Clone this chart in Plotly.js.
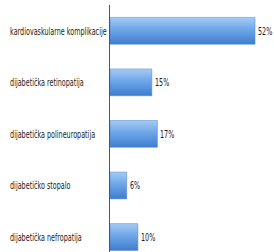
<!DOCTYPE html>
<html><head><meta charset="utf-8">
<script src="https://cdn.plot.ly/plotly-3.0.1.min.js"></script>
<style>html,body{margin:0;padding:0;background:#fff}
.squeeze{transform-box:fill-box;transform-origin:left center;transform:scaleX(0.68)}</style>
</head><body><div id="chart" style="width:274px;height:252px"></div>
<script>
var categories = ["kardiovaskularne komplikacije", "dijabetička retinopatija", "dijabetička polineuropatija", "dijabetičko stopalo", "dijabetička nefropatija"];
var values = [52, 15, 17, 6, 10];
var labels = ["52%", "15%", "17%", "6%", "10%"];

var FONT = 'DejaVu Sans Condensed, sans-serif';
var trace = {
  type: 'bar', orientation: 'h',
  x: values, y: categories,
  marker: {color: '#5f9be3', line: {color: '#4a86d2', width: 0.5}},
  width: 0.52, hoverinfo: 'none'
};
var annotations = categories.map(function (c) {
  return {xref: 'paper', yref: 'y', x: -102 / 164, y: c, text: c, showarrow: false,
          xanchor: 'left', yanchor: 'middle', font: {family: FONT, size: 10.5, color: '#1a1a1a'}};
}).concat(categories.map(function (c, i) {
  return {xref: 'x', yref: 'y', x: values[i], y: c, text: labels[i], showarrow: false, xshift: 1,
          xanchor: 'left', yanchor: 'middle', font: {family: FONT, size: 10.5, color: '#1a1a1a'}};
}));
var layout = {
  width: 274, height: 252,
  margin: {l: 110, r: 0, t: 5, b: 0, pad: 0},
  paper_bgcolor: '#fff', plot_bgcolor: '#fff',
  showlegend: false,
  font: {family: FONT, size: 10, color: '#1a1a1a'},
  annotations: annotations,
  xaxis: {range: [0, 58.8], visible: false, fixedrange: true},
  yaxis: {type: 'category', categoryorder: 'array', categoryarray: categories,
          range: [4.29, -0.5], showline: true, linecolor: '#555', linewidth: 1,
          showgrid: false, zeroline: false, ticks: '', showticklabels: false, automargin: false}
};
Plotly.newPlot('chart', [trace], layout, {displayModeBar: false, staticPlot: true}).then(function (gd) {
  var svg = gd.querySelector('svg.main-svg');
  var ns = 'http://www.w3.org/2000/svg';
  var defs = svg.querySelector('defs') || svg.insertBefore(document.createElementNS(ns, 'defs'), svg.firstChild);
  var lg = document.createElementNS(ns, 'linearGradient');
  lg.setAttribute('id', 'barGrad'); lg.setAttribute('x1', '0'); lg.setAttribute('y1', '0');
  lg.setAttribute('x2', '0'); lg.setAttribute('y2', '1');
  [['0', '#a6cbf4'], ['0.45', '#6ea6e8'], ['1', '#3e7ccd']].forEach(function (s) {
    var st = document.createElementNS(ns, 'stop');
    st.setAttribute('offset', s[0]); st.setAttribute('stop-color', s[1]);
    lg.appendChild(st);
  });
  defs.appendChild(lg);
  gd.querySelectorAll('.barlayer .point path').forEach(function (p) { p.style.fill = 'url(#barGrad)'; });
  gd.querySelectorAll('.annotation-text').forEach(function (t) { t.classList.add('squeeze'); });
});
</script></body></html>
